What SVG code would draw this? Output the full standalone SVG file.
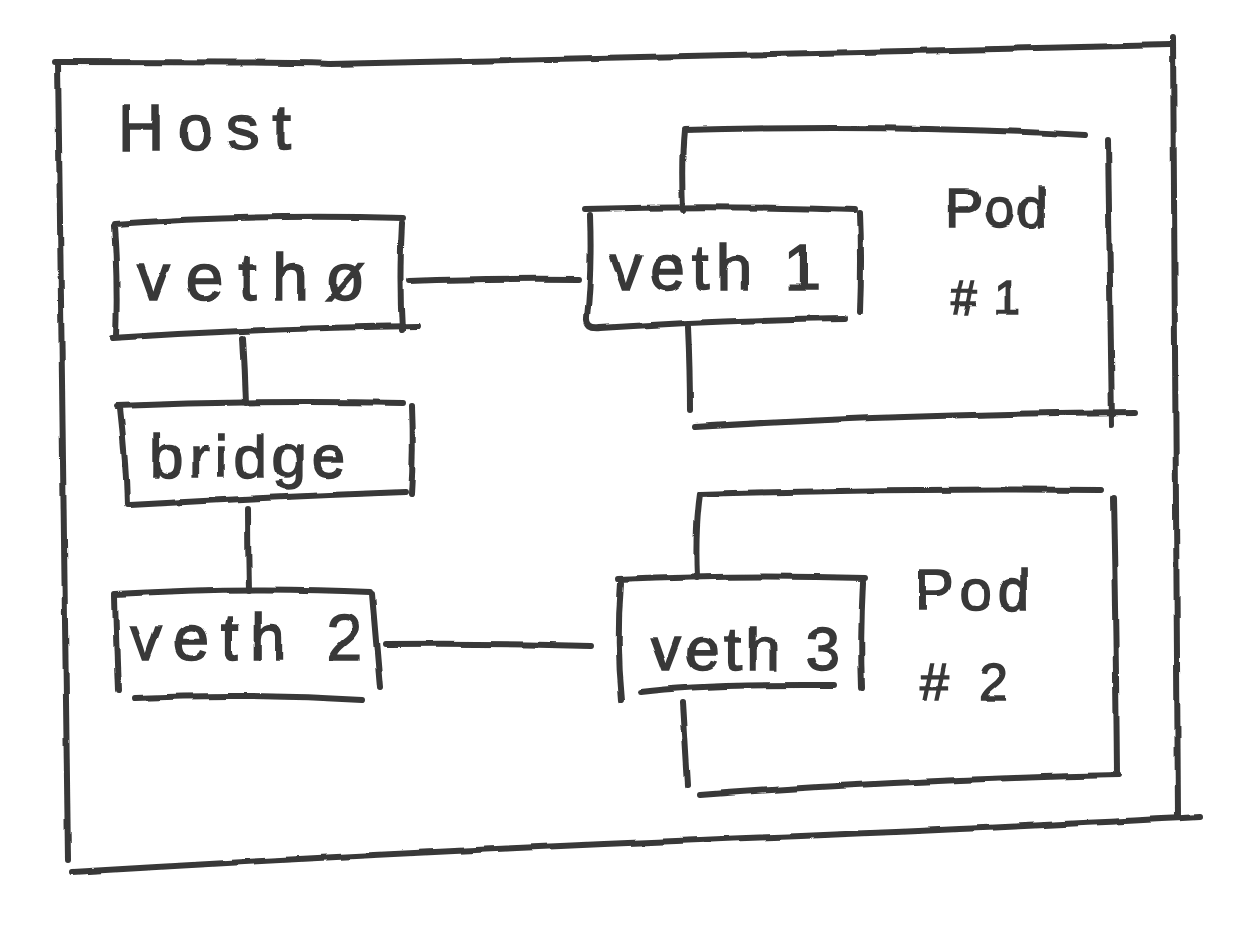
<svg xmlns="http://www.w3.org/2000/svg" width="1257" height="933" viewBox="0 0 1257 933">
<style>
.ln{fill:none;stroke:#383838;stroke-width:6;stroke-linecap:round;stroke-linejoin:round}
.tx{font-family:"Liberation Sans","DejaVu Sans",sans-serif;fill:#383838;stroke:#383838;stroke-width:1.5;font-weight:normal}
</style>
<defs>
<filter id="rough" x="-5%" y="-5%" width="110%" height="110%">
<feTurbulence type="fractalNoise" baseFrequency="0.03" numOctaves="2" seed="3"/>
<feDisplacementMap in="SourceGraphic" scale="4" xChannelSelector="R" yChannelSelector="G"/>
</filter>
</defs>
<rect width="1257" height="933" fill="#ffffff"/>
<g filter="url(#rough)">
<g id="host">
<path class="ln" d="M55,62 Q300,62 330,64 Q700,55 1170,45"/>
<path class="ln" d="M58,62 Q62,450 68,860"/>
<path class="ln" d="M1173,38 Q1176,400 1178,817"/>
<path class="ln" d="M72,872 Q400,852 700,840 Q1000,828 1200,817"/>
<text class="tx" x="118" y="150" font-size="64" textLength="172" lengthAdjust="spacing">Host</text>
</g>
<g id="veth0">
<path class="ln" d="M115,224 Q250,214 403,218"/>
<path class="ln" d="M114,226 Q118,280 116,337"/>
<path class="ln" d="M402,223 Q399,280 402,330"/>
<path class="ln" d="M112,338 Q260,328 418,326"/>
<text class="tx" x="137" y="300" font-size="66" textLength="228" lengthAdjust="spacing">vethø</text>
</g>
<g id="bridge">
<path class="ln" d="M117,406 Q260,400 403,403"/>
<path class="ln" d="M120,408 Q126,460 127,505"/>
<path class="ln" d="M412,406 Q414,450 411,494"/>
<path class="ln" d="M130,505 Q270,497 405,492"/>
<text class="tx" x="150" y="477" font-size="60" textLength="195" lengthAdjust="spacing">bridge</text>
</g>
<g id="veth2">
<path class="ln" d="M115,594 Q250,586 370,592"/>
<path class="ln" d="M115,596 Q116,640 118,690"/>
<path class="ln" d="M372,594 Q376,640 380,688"/>
<path class="ln" d="M135,698 Q250,693 362,700"/>
<text class="tx" x="130" y="660" font-size="64" textLength="232" lengthAdjust="spacing">veth 2</text>
</g>
<g id="pod1">
<path class="ln" d="M683,210 Q681,160 684,130 Q900,124 1085,135"/>
<path class="ln" d="M1108,140 Q1110,300 1112,425"/>
<path class="ln" d="M688,327 Q690,370 690,410"/>
<path class="ln" d="M695,427 Q900,414 1135,412"/>
<text class="tx" x="945" y="227" font-size="56" textLength="103" lengthAdjust="spacing">Pod</text>
<text class="tx" x="950" y="314" font-size="48" textLength="70" lengthAdjust="spacing">#1</text>
</g>
<g id="veth1">
<path class="ln" d="M585,209 Q720,205 855,210"/>
<path class="ln" d="M590,215 Q592,270 587,318 Q586,330 600,328 Q720,320 845,318"/>
<path class="ln" d="M860,213 Q862,260 860,312"/>
<text class="tx" x="610" y="290" font-size="64" textLength="210" lengthAdjust="spacing">veth 1</text>
</g>
<g id="pod2">
<path class="ln" d="M697,578 Q695,530 700,494 Q900,488 1100,490"/>
<path class="ln" d="M1113,497 Q1116,640 1117,775"/>
<path class="ln" d="M683,702 Q686,750 688,785"/>
<path class="ln" d="M700,795 Q900,780 1118,775"/>
<text class="tx" x="915" y="610" font-size="58" textLength="115" lengthAdjust="spacing">Pod</text>
<text class="tx" x="920" y="700" font-size="52" textLength="88" lengthAdjust="spacing">#2</text>
</g>
<g id="veth3">
<path class="ln" d="M618,580 Q740,574 865,578"/>
<path class="ln" d="M621,584 Q616,640 622,700"/>
<path class="ln" d="M863,582 Q860,640 862,688"/>
<path class="ln" d="M640,692 Q700,684 835,685"/>
<text class="tx" x="650" y="670" font-size="62" textLength="190" lengthAdjust="spacing">veth 3</text>
</g>
<g id="connectors">
<path class="ln" d="M242,338 Q244,370 245,403"/>
<path class="ln" d="M248,508 Q248,550 249,590"/>
<path class="ln" d="M410,281 Q500,278 578,279"/>
<path class="ln" d="M385,644 Q500,643 590,646"/>
</g>
</g>
</svg>
